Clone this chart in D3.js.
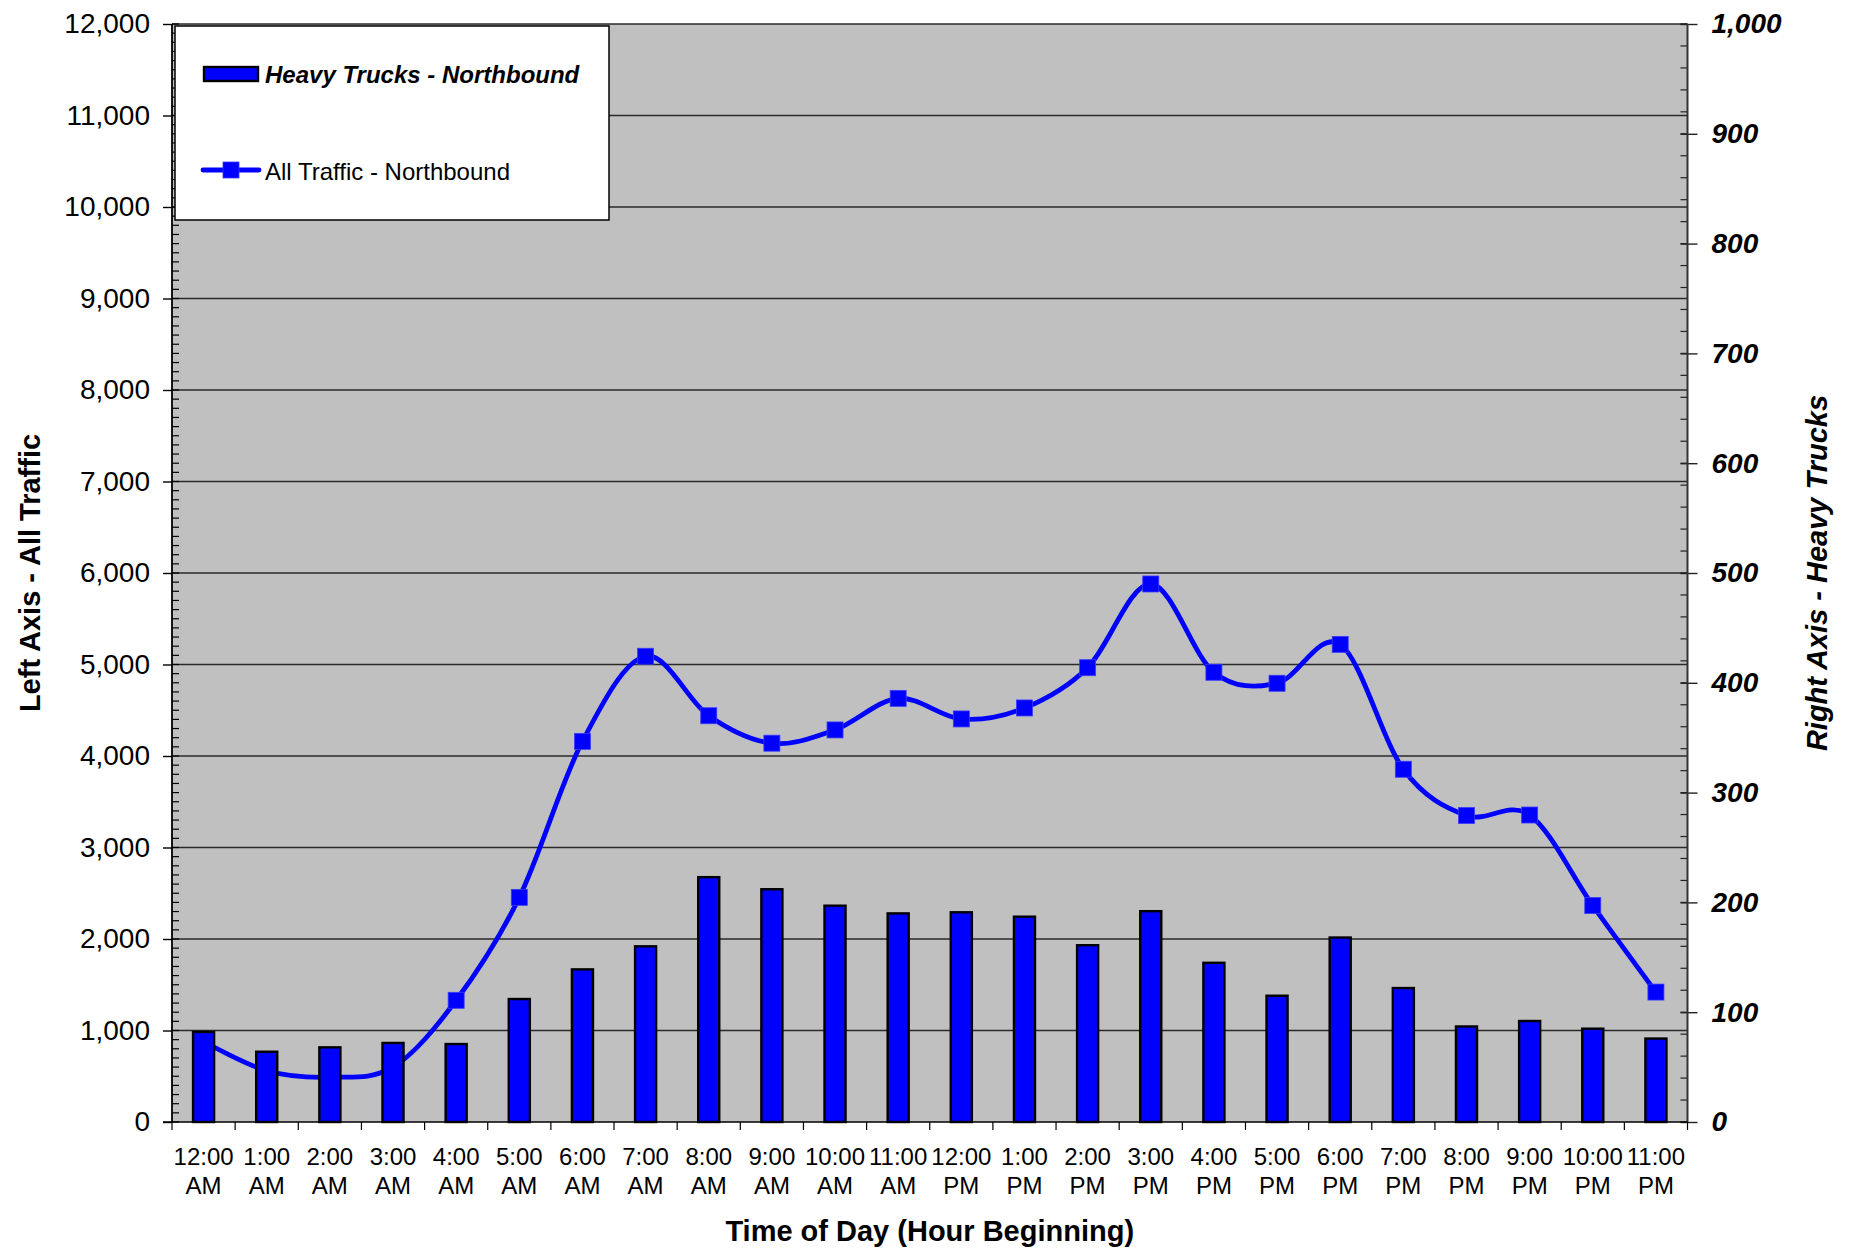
<!DOCTYPE html>
<html>
<head>
<meta charset="utf-8">
<script src="https://cdn.jsdelivr.net/npm/d3@7"></script>
<style>
  html, body { margin: 0; padding: 0; background: #ffffff; }
  svg { display: block; }
  text { font-family: "Liberation Sans", Arial, Helvetica, sans-serif; fill: #000; }
</style>
</head>
<body>
<svg id="chart" width="1851" height="1249"></svg>
<script>
// ---------------- DATA ----------------
const categories = [
  "12:00 AM", "1:00 AM", "2:00 AM", "3:00 AM", "4:00 AM", "5:00 AM",
  "6:00 AM", "7:00 AM", "8:00 AM", "9:00 AM", "10:00 AM", "11:00 AM",
  "12:00 PM", "1:00 PM", "2:00 PM", "3:00 PM", "4:00 PM", "5:00 PM",
  "6:00 PM", "7:00 PM", "8:00 PM", "9:00 PM", "10:00 PM", "11:00 PM"
];
// Left axis series (line)
const allTrafficNorthbound = [
  880, 560, 490, 600, 1330, 2455, 4160, 5090, 4440, 4140, 4285, 4630,
  4405, 4525, 4965, 5880, 4915, 4795, 5220, 3855, 3350, 3355, 2365, 1420
];
// Right axis series (bars)
const heavyTrucksNorthbound = [
  82, 64, 68, 72, 71, 112, 139, 160, 223, 212, 197, 190,
  191, 187, 161, 192, 145, 115, 168, 122, 87, 92, 85, 76
];
const leftTicks = [0, 1000, 2000, 3000, 4000, 5000, 6000, 7000, 8000, 9000, 10000, 11000, 12000];
const rightTicks = [0, 100, 200, 300, 400, 500, 600, 700, 800, 900, 1000];
const seriesNames = ["Heavy Trucks - Northbound", "All Traffic - Northbound"];
const axisTitles = { x: "Time of Day (Hour Beginning)", left: "Left Axis - All Traffic", right: "Right Axis - Heavy Trucks" };

// ---------------- LAYOUT ----------------
const plot = { left: 172, right: 1687.5, top: 24, bottom: 1122 };
const BLUE = "#0000FF";
const svg = d3.select("#chart");

const x = d3.scaleBand().domain(categories).range([plot.left, plot.right]).padding(0);
const bw = x.bandwidth();
const yL = d3.scaleLinear().domain([0, 12000]).range([plot.bottom, plot.top]);
const yR = d3.scaleLinear().domain([0, 1000]).range([plot.bottom, plot.top]);

// plot background
svg.append("rect")
  .attr("x", plot.left).attr("y", plot.top)
  .attr("width", plot.right - plot.left).attr("height", plot.bottom - plot.top)
  .attr("fill", "#C0C0C0");

// gridlines (left axis majors)
svg.append("g").selectAll("line").data(leftTicks.filter(d => d > 0)).join("line")
  .attr("x1", plot.left).attr("x2", plot.right)
  .attr("y1", d => yL(d)).attr("y2", d => yL(d))
  .attr("stroke", "#2a2a2a").attr("stroke-width", 1.4);

// ---------------- LINE (primary, drawn beneath bars) ----------------
const lineGen = d3.line()
  .x((d, i) => x(categories[i]) + bw / 2)
  .y(d => yL(d))
  .curve(d3.curveCardinal.tension(0));
svg.append("path").datum(allTrafficNorthbound)
  .attr("d", lineGen).attr("fill", "none")
  .attr("stroke", BLUE).attr("stroke-width", 4.8).attr("stroke-linejoin", "round");
const MS = 16;
svg.append("g").selectAll("rect").data(allTrafficNorthbound).join("rect")
  .attr("x", (d, i) => x(categories[i]) + bw / 2 - MS / 2)
  .attr("y", d => yL(d) - MS / 2)
  .attr("width", MS).attr("height", MS)
  .attr("fill", BLUE).attr("stroke", "#3a3aff").attr("stroke-width", 0.8);

// ---------------- BARS (secondary axis) ----------------
svg.append("g").selectAll("rect").data(heavyTrucksNorthbound).join("rect")
  .attr("x", (d, i) => x(categories[i]) + bw / 3)
  .attr("y", d => yR(d))
  .attr("width", bw / 3)
  .attr("height", d => yR(0) - yR(d))
  .attr("fill", BLUE).attr("stroke", "#000").attr("stroke-width", 2.4);

// ---------------- AXES ----------------
// left axis
const gL = svg.append("g").attr("transform", `translate(${plot.left},0)`)
  .call(d3.axisLeft(yL).tickValues(leftTicks).tickSize(9).tickPadding(13).tickFormat(d3.format(",")));
gL.select(".domain").remove();
gL.selectAll("line").attr("stroke", "#000").attr("stroke-width", 1.4);
gL.selectAll("text").style("font-size", "28px").attr("font-family", null);
// left minor ticks (inside)
svg.append("g").selectAll("line").data(d3.range(0, 12001, 100)).join("line")
  .attr("x1", plot.left).attr("x2", plot.left + 7)
  .attr("y1", d => yL(d)).attr("y2", d => yL(d))
  .attr("stroke", "#000").attr("stroke-width", 1.2);
svg.append("line").attr("x1", plot.left).attr("x2", plot.left)
  .attr("y1", plot.top).attr("y2", plot.bottom)
  .attr("stroke", "#000").attr("stroke-width", 1.8);

// right axis
const gR = svg.append("g").attr("transform", `translate(${plot.right},0)`)
  .call(d3.axisRight(yR).tickValues(rightTicks).tickSize(10).tickPadding(14).tickFormat(d3.format(",")));
gR.select(".domain").remove();
gR.selectAll("line").attr("x1", -7).attr("stroke", "#222").attr("stroke-width", 1.4);
gR.selectAll("text").style("font-size", "28px").style("font-weight", "bold").style("font-style", "italic").attr("font-family", null);
svg.append("g").selectAll("line").data(d3.range(0, 1001, 20)).join("line")
  .attr("x1", plot.right - 7).attr("x2", plot.right)
  .attr("y1", d => yR(d)).attr("y2", d => yR(d))
  .attr("stroke", "#222").attr("stroke-width", 1.2);
svg.append("line").attr("x1", plot.right).attr("x2", plot.right)
  .attr("y1", plot.top).attr("y2", plot.bottom)
  .attr("stroke", "#333").attr("stroke-width", 2);

// bottom axis
svg.append("line").attr("x1", plot.left - 9).attr("x2", plot.right)
  .attr("y1", plot.bottom).attr("y2", plot.bottom)
  .attr("stroke", "#000").attr("stroke-width", 1.6);
const boundaries = categories.map(c => x(c)).concat([plot.right]);
svg.append("g").selectAll("line").data(boundaries).join("line")
  .attr("x1", d => d).attr("x2", d => d)
  .attr("y1", plot.bottom).attr("y2", plot.bottom + 8)
  .attr("stroke", "#000").attr("stroke-width", 1.2);
const xl = svg.append("g").selectAll("text").data(categories).join("text")
  .attr("text-anchor", "middle")
  .style("font-size", "24px");
xl.append("tspan").attr("x", d => x(d) + bw / 2).attr("y", 1165).text(d => d.split(" ")[0]);
xl.append("tspan").attr("x", d => x(d) + bw / 2).attr("y", 1193.5).text(d => d.split(" ")[1]);

// axis titles
svg.append("text").attr("x", (plot.left + plot.right) / 2).attr("y", 1241)
  .attr("text-anchor", "middle").style("font-size", "29px").style("font-weight", "bold")
  .text(axisTitles.x);
svg.append("text").attr("transform", `translate(40,${(plot.top + plot.bottom) / 2}) rotate(-90)`)
  .attr("text-anchor", "middle").style("font-size", "29px").style("font-weight", "bold")
  .text(axisTitles.left);
svg.append("text").attr("transform", `translate(1827,${(plot.top + plot.bottom) / 2}) rotate(-90)`)
  .attr("text-anchor", "middle").style("font-size", "29px").style("font-weight", "bold").style("font-style", "italic")
  .text(axisTitles.right);

// ---------------- LEGEND ----------------
const lg = svg.append("g");
lg.append("rect").attr("x", 175).attr("y", 26).attr("width", 434).attr("height", 194)
  .attr("fill", "#fff").attr("stroke", "#000").attr("stroke-width", 1.5);
lg.append("rect").attr("x", 204).attr("y", 67).attr("width", 54).attr("height", 14)
  .attr("fill", BLUE).attr("stroke", "#000").attr("stroke-width", 2.4);
lg.append("text").attr("x", 265).attr("y", 82.5)
  .style("font-size", "24px").style("font-weight", "bold").style("font-style", "italic")
  .text(seriesNames[0]);
lg.append("line").attr("x1", 203).attr("x2", 259).attr("y1", 170).attr("y2", 170)
  .attr("stroke", BLUE).attr("stroke-width", 4.8).attr("stroke-linecap", "round");
lg.append("rect").attr("x", 231 - MS / 2).attr("y", 170 - MS / 2).attr("width", MS).attr("height", MS)
  .attr("fill", BLUE).attr("stroke", "#3a3aff").attr("stroke-width", 0.8);
lg.append("text").attr("x", 265).attr("y", 179.5)
  .style("font-size", "24px")
  .text(seriesNames[1]);
</script>
</body>
</html>
